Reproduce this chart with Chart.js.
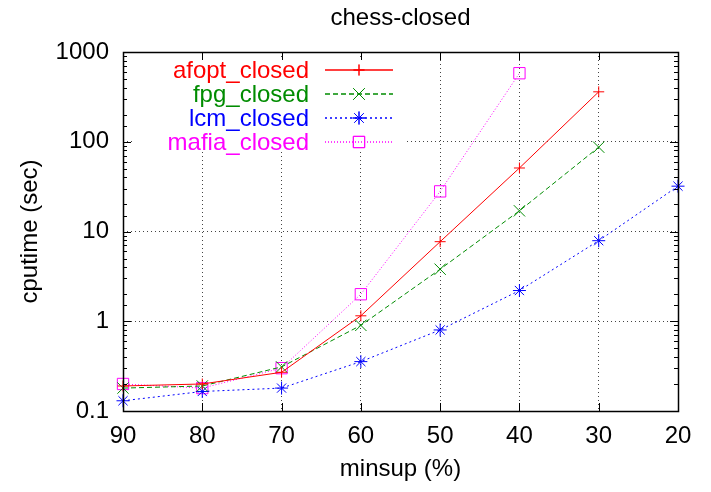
<!DOCTYPE html>
<html>
<head>
<meta charset="utf-8">
<script src="https://cdn.jsdelivr.net/npm/chart.js@4/dist/chart.umd.min.js"></script>
<style>
  html, body { margin: 0; padding: 0; background: #fff; }
  #wrap { width: 711px; height: 492px; }
</style>
</head>
<body>
<div id="wrap"><canvas id="c" width="711" height="492"></canvas></div>
<script>
const chartTitle = 'chess-closed';
const xTitle = 'minsup (%)';
const yTitle = 'cputime (sec)';
const categories = ['90', '80', '70', '60', '50', '40', '30', '20'];
const seriesNames = ['afopt_closed', 'fpg_closed', 'lcm_closed', 'mafia_closed'];
const afoptValues = [0.19, 0.2, 0.27, 1.15, 7.7, 51, 360, null];
const fpgValues = [0.18, 0.19, 0.31, 0.9, 3.8, 17, 87, null];
const lcmValues = [0.13, 0.165, 0.18, 0.355, 0.8, 2.2, 7.9, 32];
const mafiaValues = [0.2, 0.18, 0.3, 2.0, 28, 580, null, null];
const yMin = 0.1, yMax = 1000;

const FONT = '"Liberation Sans", Arial, Helvetica, sans-serif';
const colors = ['rgb(255,0,0)', 'rgb(0,140,0)', 'rgb(0,0,255)', 'rgb(255,0,255)'];
const dashes = [[], [5, 3], [2, 3], [1, 2]];
const pStyles = ['cross', 'crossRot', 'star', 'rect'];
const pRadius = [5.5, 8, 6.5, 8];
const allValues = [afoptValues, fpgValues, lcmValues, mafiaValues];

const isMajor = v => Math.abs(Math.log10(v) - Math.round(Math.log10(v))) < 1e-9;

const datasets = seriesNames.map((name, i) => ({
  label: name,
  data: allValues[i],
  borderColor: colors[i],
  backgroundColor: 'rgba(0,0,0,0)',
  borderWidth: 1,
  borderDash: dashes[i],
  pointStyle: pStyles[i],
  pointRadius: pRadius[i],
  pointHoverRadius: pRadius[i],
  pointBorderColor: colors[i],
  pointBackgroundColor: 'rgba(0,0,0,0)',
  pointBorderWidth: 1,
  tension: 0,
  spanGaps: false
}));

const decor = {
  id: 'decor',
  beforeDatasetsDraw(chart) {
    const ctx = chart.ctx, a = chart.chartArea;
    ctx.save();
    ctx.fillStyle = '#fff';
    ctx.fillRect(a.left + 11, a.top + 6, 272, 92);
    ctx.restore();
  },
  afterDatasetsDraw(chart) {
    const ctx = chart.ctx, a = chart.chartArea;
    const xs = chart.scales.x, ys = chart.scales.y;
    ctx.save();
    ctx.strokeStyle = '#000';
    ctx.lineWidth = 1;
    ctx.setLineDash([]);
    // ticks
    ctx.beginPath();
    ys.ticks.forEach(t => {
      const py = Math.round(ys.getPixelForValue(t.value)) + 0.5;
      const len = isMajor(t.value) ? 8 : 4;
      ctx.moveTo(a.left, py); ctx.lineTo(a.left + len, py);
      ctx.moveTo(a.right, py); ctx.lineTo(a.right - len, py);
    });
    categories.forEach((c, i) => {
      const px = Math.round(xs.getPixelForValue(i)) + 0.5;
      ctx.moveTo(px, a.bottom); ctx.lineTo(px, a.bottom - 8);
      ctx.moveTo(px, a.top); ctx.lineTo(px, a.top + 8);
    });
    ctx.stroke();
    // frame
    ctx.lineWidth = 1.5;
    ctx.strokeRect(Math.round(a.left) + 0.5, Math.round(a.top) + 0.5, Math.round(a.right - a.left), Math.round(a.bottom - a.top));
    // legend
    ctx.font = '24px ' + FONT;
    ctx.textAlign = 'right';
    ctx.textBaseline = 'alphabetic';
    seriesNames.forEach((name, i) => {
      const y = a.top + 18 + i * 24;
      ctx.fillStyle = colors[i];
      ctx.fillText(name, a.left + 186, y + 8);
      ctx.strokeStyle = colors[i];
      ctx.lineWidth = 1.5;
      ctx.setLineDash(dashes[i]);
      ctx.beginPath();
      ctx.moveTo(a.left + 202, y); ctx.lineTo(a.left + 270, y);
      ctx.stroke();
      ctx.setLineDash([]);
      ctx.lineWidth = 1;
      ctx.fillStyle = 'rgba(0,0,0,0)';
      Chart.helpers.drawPoint(ctx, { pointStyle: pStyles[i], radius: pRadius[i], borderWidth: 1 }, a.left + 236, y);
      ctx.stroke();
    });
    // title
    ctx.fillStyle = '#000';
    ctx.textAlign = 'center';
    ctx.fillText(chartTitle, (a.left + a.right) / 2, 25);
    ctx.restore();
  }
};

new Chart(document.getElementById('c'), {
  type: 'line',
  data: { labels: categories, datasets },
  options: {
    responsive: false,
    animation: false,
    events: [],
    layout: { padding: { top: 52, right: 33, left: 0, bottom: 0 } },
    plugins: { legend: { display: false }, tooltip: { enabled: false }, title: { display: false } },
    scales: {
      x: {
        type: 'category',
        offset: false,
        afterFit(s) { s.height = 81; },
        grid: {
          color: (c) => (c.index === 0 || c.index === categories.length - 1) ? 'rgba(0,0,0,0)' : '#444',
          lineWidth: 1, drawTicks: false
        },
        border: { display: false, dash: [1, 3] },
        ticks: { color: '#000', font: { family: FONT, size: 24 }, padding: 11, maxRotation: 0, autoSkip: false },
        title: { display: true, text: xTitle, color: '#000', font: { family: FONT, size: 24 }, padding: { top: 0, bottom: 8 } }
      },
      y: {
        type: 'logarithmic',
        min: yMin, max: yMax,
        afterFit(s) { s.width = 123; },
        grid: {
          color: (c) => (c.tick && isMajor(c.tick.value) && c.tick.value > yMin && c.tick.value < yMax) ? '#444' : 'rgba(0,0,0,0)',
          lineWidth: 1, drawTicks: false
        },
        border: { display: false, dash: [1, 3] },
        ticks: {
          color: '#000', font: { family: FONT, size: 24 }, padding: 14, autoSkip: false,
          callback: (v) => isMajor(v) ? String(v) : ''
        },
        title: { display: true, text: yTitle, color: '#000', font: { family: FONT, size: 24 }, padding: { top: 16, bottom: 0 } }
      }
    }
  },
  plugins: [decor]
});
</script>
</body>
</html>
